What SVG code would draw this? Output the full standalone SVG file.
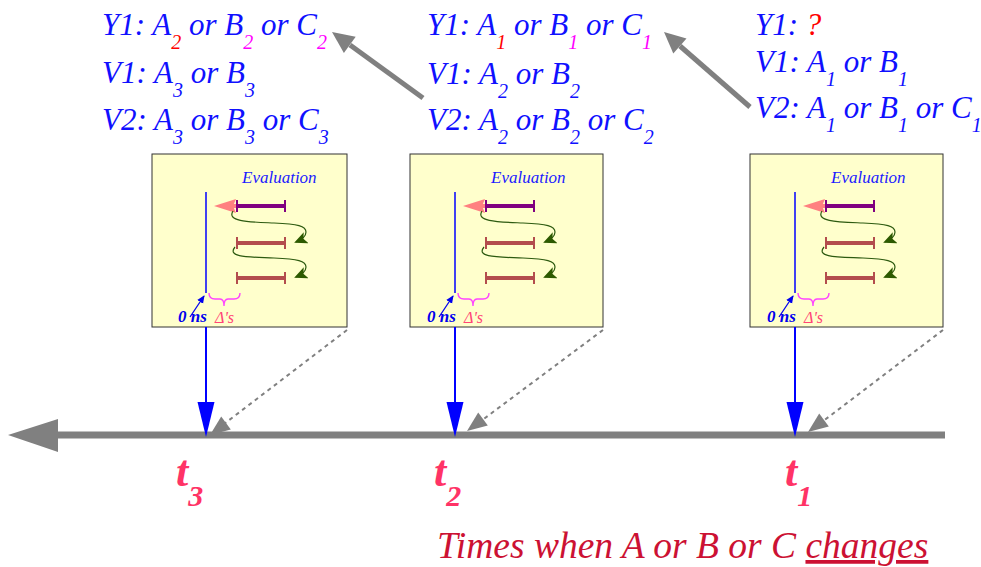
<svg xmlns="http://www.w3.org/2000/svg" width="981" height="567" viewBox="0 0 981 567">
<style>
.lbl{font-family:"Liberation Serif","Times New Roman",serif;font-style:italic;font-size:31px;fill:#1010ff}
.s{font-size:20px}
.eval{font-family:"Liberation Serif",serif;font-style:italic;font-size:17px;fill:#1a1aff}
.ns{font-family:"Liberation Serif",serif;font-style:italic;font-weight:bold;font-size:17px;fill:#0000ee}
.dl{font-family:"Liberation Serif",serif;font-style:italic;font-size:16px;fill:#ff4477}
.box{fill:#ffffcc;stroke:#333;stroke-width:1}
.pbar{stroke:#800080;stroke-width:4}
.ptick{stroke:#800080;stroke-width:2}
.bbar{stroke:#b34d4d;stroke-width:4}
.btick{stroke:#b34d4d;stroke-width:2}
.gc{fill:none;stroke:#2d5a10;stroke-width:1.2}
.tl{font-family:"Liberation Serif",serif;font-style:italic;font-weight:bold;font-size:44px;fill:#ff3366}
.ts{font-size:30px}
.cap{font-family:"Liberation Serif",serif;font-style:italic;font-size:37.5px;fill:#cc1133}
.dot{stroke:#808080;stroke-width:2;stroke-dasharray:4 4;fill:none}
</style>
<defs>
<marker id="gh" markerWidth="13" markerHeight="12" refX="11" refY="6" orient="auto" markerUnits="userSpaceOnUse">
<path d="M0,0 L13,6 L0,12 L3,6 Z" fill="#2d5a00"/>
</marker>
<marker id="bh" markerWidth="8" markerHeight="8" refX="7" refY="4" orient="auto" markerUnits="userSpaceOnUse">
<path d="M0,0.5 L8,4 L0,7.5 Z" fill="#0000ee"/>
</marker>
<g id="content">
<text class="eval" x="36" y="183">Evaluation</text>
<line x1="0" y1="192" x2="0" y2="293" stroke="#0000ff" stroke-width="1.5"/>
<line x1="24" y1="206" x2="31" y2="206" stroke="#ff8080" stroke-width="4"/>
<polygon points="8,206 30,199 27,206 30,213" fill="#ff8080"/>
<line class="pbar" x1="31" y1="206" x2="79" y2="206"/>
<line class="ptick" x1="31" y1="200" x2="31" y2="212"/>
<line class="ptick" x1="79" y1="200" x2="79" y2="212"/>
<line class="bbar" x1="31" y1="243" x2="79" y2="243"/>
<line class="btick" x1="31" y1="237" x2="31" y2="249"/>
<line class="btick" x1="79" y1="237" x2="79" y2="249"/>
<line class="bbar" x1="31" y1="278" x2="79" y2="278"/>
<line class="btick" x1="31" y1="272" x2="31" y2="284"/>
<line class="btick" x1="79" y1="272" x2="79" y2="284"/>
<path class="gc" d="M27,211 C20,222 45,222 68,223 C92,224 100,226 100,232 C100,236 97,239 90,242" marker-end="url(#gh)"/>
<path class="gc" d="M29,247 C20,258 45,257 68,258 C92,259 100,261 100,267 C100,271 97,274 90,277" marker-end="url(#gh)"/>
<path d="M3,293 Q3,299 9,299 L14,299 Q18,299 18,306 Q18,299 22,299 L28,299 Q34,299 34,293" fill="none" stroke="#ff44ff" stroke-width="1.4"/>
<line x1="-16" y1="317" x2="-2" y2="296" stroke="#0000ee" stroke-width="1.3" marker-end="url(#bh)"/>
<text class="ns" x="-28" y="322">0 ns</text>
<text class="dl" x="9" y="323">Δ's</text>
</g>
</defs>

<g id="node-box3">
<rect class="box" x="152" y="154" width="195" height="173"/>
<use href="#content" transform="translate(206,0)"/>
</g>
<g id="node-box2">
<rect class="box" x="410" y="154" width="193" height="173"/>
<use href="#content" transform="translate(455,0)"/>
</g>
<g id="node-box1">
<rect class="box" x="750" y="154" width="193" height="173"/>
<use href="#content" transform="translate(795,0)"/>
</g>

<g id="node-text3">
<text class="lbl" x="102" y="35">Y1: A<tspan class="s" dy="14" fill="#ff0000">2</tspan><tspan dy="-14"> or B</tspan><tspan class="s" dy="14" fill="#ff00ff">2</tspan><tspan dy="-14"> or C</tspan><tspan class="s" dy="14" fill="#ff00ff">2</tspan></text>
<text class="lbl" x="102" y="83">V1: A<tspan class="s" dy="14">3</tspan><tspan dy="-14"> or B</tspan><tspan class="s" dy="14">3</tspan></text>
<text class="lbl" x="102" y="130">V2: A<tspan class="s" dy="14">3</tspan><tspan dy="-14"> or B</tspan><tspan class="s" dy="14">3</tspan><tspan dy="-14"> or C</tspan><tspan class="s" dy="14">3</tspan></text>
</g>
<g id="node-text2">
<text class="lbl" x="427" y="35">Y1: A<tspan class="s" dy="14" fill="#ff0000">1</tspan><tspan dy="-14"> or B</tspan><tspan class="s" dy="14" fill="#ff00ff">1</tspan><tspan dy="-14"> or C</tspan><tspan class="s" dy="14" fill="#ff00ff">1</tspan></text>
<text class="lbl" x="427" y="84">V1: A<tspan class="s" dy="14">2</tspan><tspan dy="-14"> or B</tspan><tspan class="s" dy="14">2</tspan></text>
<text class="lbl" x="427" y="130">V2: A<tspan class="s" dy="14">2</tspan><tspan dy="-14"> or B</tspan><tspan class="s" dy="14">2</tspan><tspan dy="-14"> or C</tspan><tspan class="s" dy="14">2</tspan></text>
</g>
<g id="node-text1">
<text class="lbl" x="755" y="35">Y1: <tspan fill="#ff0000">?</tspan></text>
<text class="lbl" x="755" y="72">V1: A<tspan class="s" dy="14">1</tspan><tspan dy="-14"> or B</tspan><tspan class="s" dy="14">1</tspan></text>
<text class="lbl" x="755" y="118">V2: A<tspan class="s" dy="14">1</tspan><tspan dy="-14"> or B</tspan><tspan class="s" dy="14">1</tspan><tspan dy="-14"> or C</tspan><tspan class="s" dy="14">1</tspan></text>
</g>

<g id="connectors">
<line x1="423" y1="98" x2="350" y2="45" stroke="#808080" stroke-width="5"/>
<polygon points="332,32 355.7,36.8 343.9,53" fill="#808080"/>
<line x1="750" y1="107" x2="680" y2="46" stroke="#808080" stroke-width="5"/>
<polygon points="664,32 686.5,38.5 673.3,53.6" fill="#808080"/>

<line class="dot" x1="347" y1="330" x2="224" y2="424"/>
<polygon points="210,435 221.2,416.6 230.8,429.4" fill="#808080"/>
<line class="dot" x1="603" y1="330" x2="481" y2="421"/>
<polygon points="467,431 478.2,412.6 487.8,425.4" fill="#808080"/>
<line class="dot" x1="943" y1="330" x2="822" y2="422"/>
<polygon points="808,432 819.2,413.6 828.8,426.4" fill="#808080"/>

<line x1="55" y1="435" x2="945" y2="435" stroke="#808080" stroke-width="7"/>
<polygon points="8,435 58,419 58,452" fill="#808080"/>

<line x1="206" y1="327" x2="206" y2="405" stroke="#0000ff" stroke-width="2"/>
<polygon points="197.5,402 214.5,402 206,437" fill="#0000ff"/>
<line x1="455" y1="327" x2="455" y2="405" stroke="#0000ff" stroke-width="2"/>
<polygon points="446.5,402 463.5,402 455,437" fill="#0000ff"/>
<line x1="795" y1="327" x2="795" y2="405" stroke="#0000ff" stroke-width="2"/>
<polygon points="786.5,402 803.5,402 795,437" fill="#0000ff"/>
</g>

<g id="node-t3"><text class="tl" x="176" y="486">t<tspan class="ts" dy="20">3</tspan></text></g>
<g id="node-t2"><text class="tl" x="434" y="486">t<tspan class="ts" dy="20">2</tspan></text></g>
<g id="node-t1"><text class="tl" x="785" y="486">t<tspan class="ts" dy="20">1</tspan></text></g>

<g id="node-caption">
<text class="cap" x="437" y="558">Times when A or B or C <tspan text-decoration="underline">changes</tspan></text>
</g>
</svg>
